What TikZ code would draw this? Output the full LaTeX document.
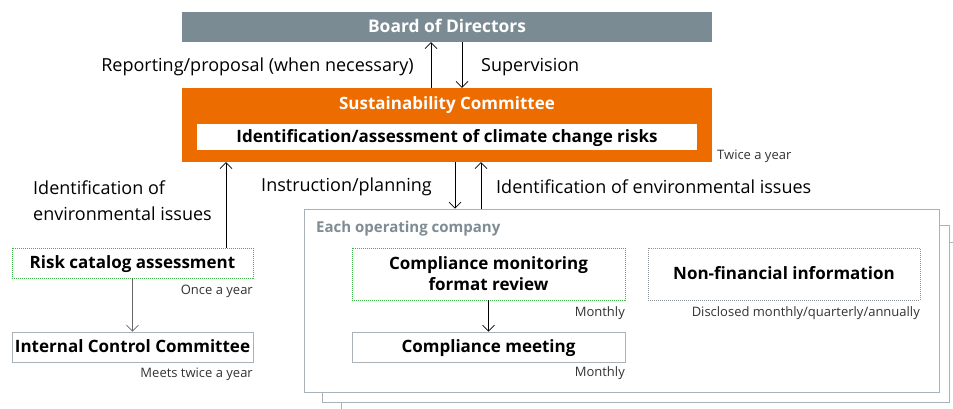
\documentclass[tikz,border=0pt]{standalone}
\usepackage{fontspec}
\setmainfont{Open Sans}
\usetikzlibrary{arrows.meta}
\definecolor{board}{HTML}{7B8B93}
\definecolor{orng}{HTML}{EC6C00}
\definecolor{frame}{HTML}{A8B2B8}
\definecolor{grn}{HTML}{3DB54A}
\definecolor{dotgray}{HTML}{8A949A}
\definecolor{headgray}{HTML}{7F8C93}
\begin{document}
\begin{tikzpicture}[x=1pt,y=-1pt,
 box/.style={draw=frame, line width=0.8pt, fill=white, inner sep=0pt, align=center, text depth=1.5pt, font=\bfseries\fontsize{17}{21}\selectfont},
 greenbox/.style={box, draw=grn, dash pattern=on 1pt off 1pt},
 graybox/.style={box, draw=dotgray, dash pattern=on 1pt off 1pt},
 stack/.style={draw=frame, line width=0.8pt, fill=white, inner sep=0pt},
 arr/.style={-{Straight Barb[length=6pt,width=12pt]}, line width=0.7pt},
 lbl/.style={font=\fontsize{18}{26}\selectfont, inner sep=0pt, align=left},
 sm/.style={font=\fontsize{13}{15}\selectfont, inner sep=0pt, text=black!80}]
\useasboundingbox (0,0) rectangle (953,408);
% coordinates for vertical connectors
\coordinate (xa) at (431,0);
\coordinate (xb) at (462,0);
\coordinate (xc) at (226,0);
\coordinate (xd) at (455,0);
\coordinate (xe) at (481,0);
% top
\node[fill=board, minimum width=530pt, minimum height=30pt, inner sep=0pt, text depth=1.5pt, text=white, font=\bfseries\fontsize{17.4}{20}\selectfont] (board) at (447,27) {Board of Directors};
\node[fill=orng, minimum width=530pt, minimum height=74pt, inner sep=0pt] (sus) at (447,125) {};
\node[text=white, font=\bfseries\fontsize{17}{20}\selectfont, inner sep=0pt] (sustitle) at (447,105) {Sustainability Committee};
\node[fill=white, minimum width=500pt, minimum height=26pt, inner sep=0pt, text depth=1.5pt, font=\bfseries\fontsize{17}{20}\selectfont] (climate) at (447,137) {Identification/assessment of climate change risks};
\node[sm, anchor=west] (twice) at (717,156) {Twice a year};
\draw[arr] (sus.north -| xa) -- (board.south -| xa);
\draw[arr] (board.south -| xb) -- (sus.north -| xb);
\node[lbl, anchor=east] (rep) at (414,67) {Reporting/proposal (when necessary)};
\node[lbl, anchor=west] (sup) at (481,67) {Supervision};
% stacked company boxes
\node[stack, minimum width=624pt, minimum height=178pt] (c3) at (653,331) {};
\node[stack, minimum width=627pt, minimum height=177pt] (c2) at (635.5,313.5) {};
\node[stack, minimum width=635pt, minimum height=183pt] (c1) at (621.5,300.5) {};
\node[anchor=west, inner sep=0pt, text=headgray, font=\bfseries\fontsize{15}{18}\selectfont] (each) at (316,229) {Each operating company};
\node[greenbox, minimum width=273pt, minimum height=52pt] (cmf) at (488.5,274) {Compliance monitoring\\format review};
\node[box, minimum width=273pt, minimum height=30pt] (cm) at (488.5,347) {Compliance meeting};
\node[graybox, minimum width=272pt, minimum height=52pt] (nfi) at (784,274) {Non-financial information};
\node[sm, anchor=east] (m1) at (625,313) {Monthly};
\node[sm, anchor=east] (m2) at (625,373) {Monthly};
\node[sm, anchor=east] (disc) at (920,313) {Disclosed monthly/quarterly/annually};
\draw[arr] (cmf) -- (cm);
% left column
\node[greenbox, minimum width=241pt, minimum height=30pt] (risk) at (132.5,263) {Risk catalog assessment};
\node[box, minimum width=241pt, minimum height=30pt] (icc) at (132.5,347) {Internal Control Committee};
\node[sm, anchor=east] (once) at (253,291) {Once a year};
\node[sm, anchor=east] (meets) at (253,374) {Meets twice a year};
\draw[arr, draw=black!60] (risk) -- (icc);
\draw[arr] (risk.north -| xc) -- (sus.south -| xc);
\node[lbl, anchor=west] (idleft) at (33,201) {Identification of\\environmental issues};
% middle connectors
\draw[arr] (sus.south -| xd) -- (c1.north -| xd);
\draw[arr] (c1.north -| xe) -- (sus.south -| xe);
\node[lbl, anchor=east] (instr) at (432,187) {Instruction/planning};
\node[lbl, anchor=west] (idright) at (496,187) {Identification of environmental issues};
\end{tikzpicture}
\end{document}
